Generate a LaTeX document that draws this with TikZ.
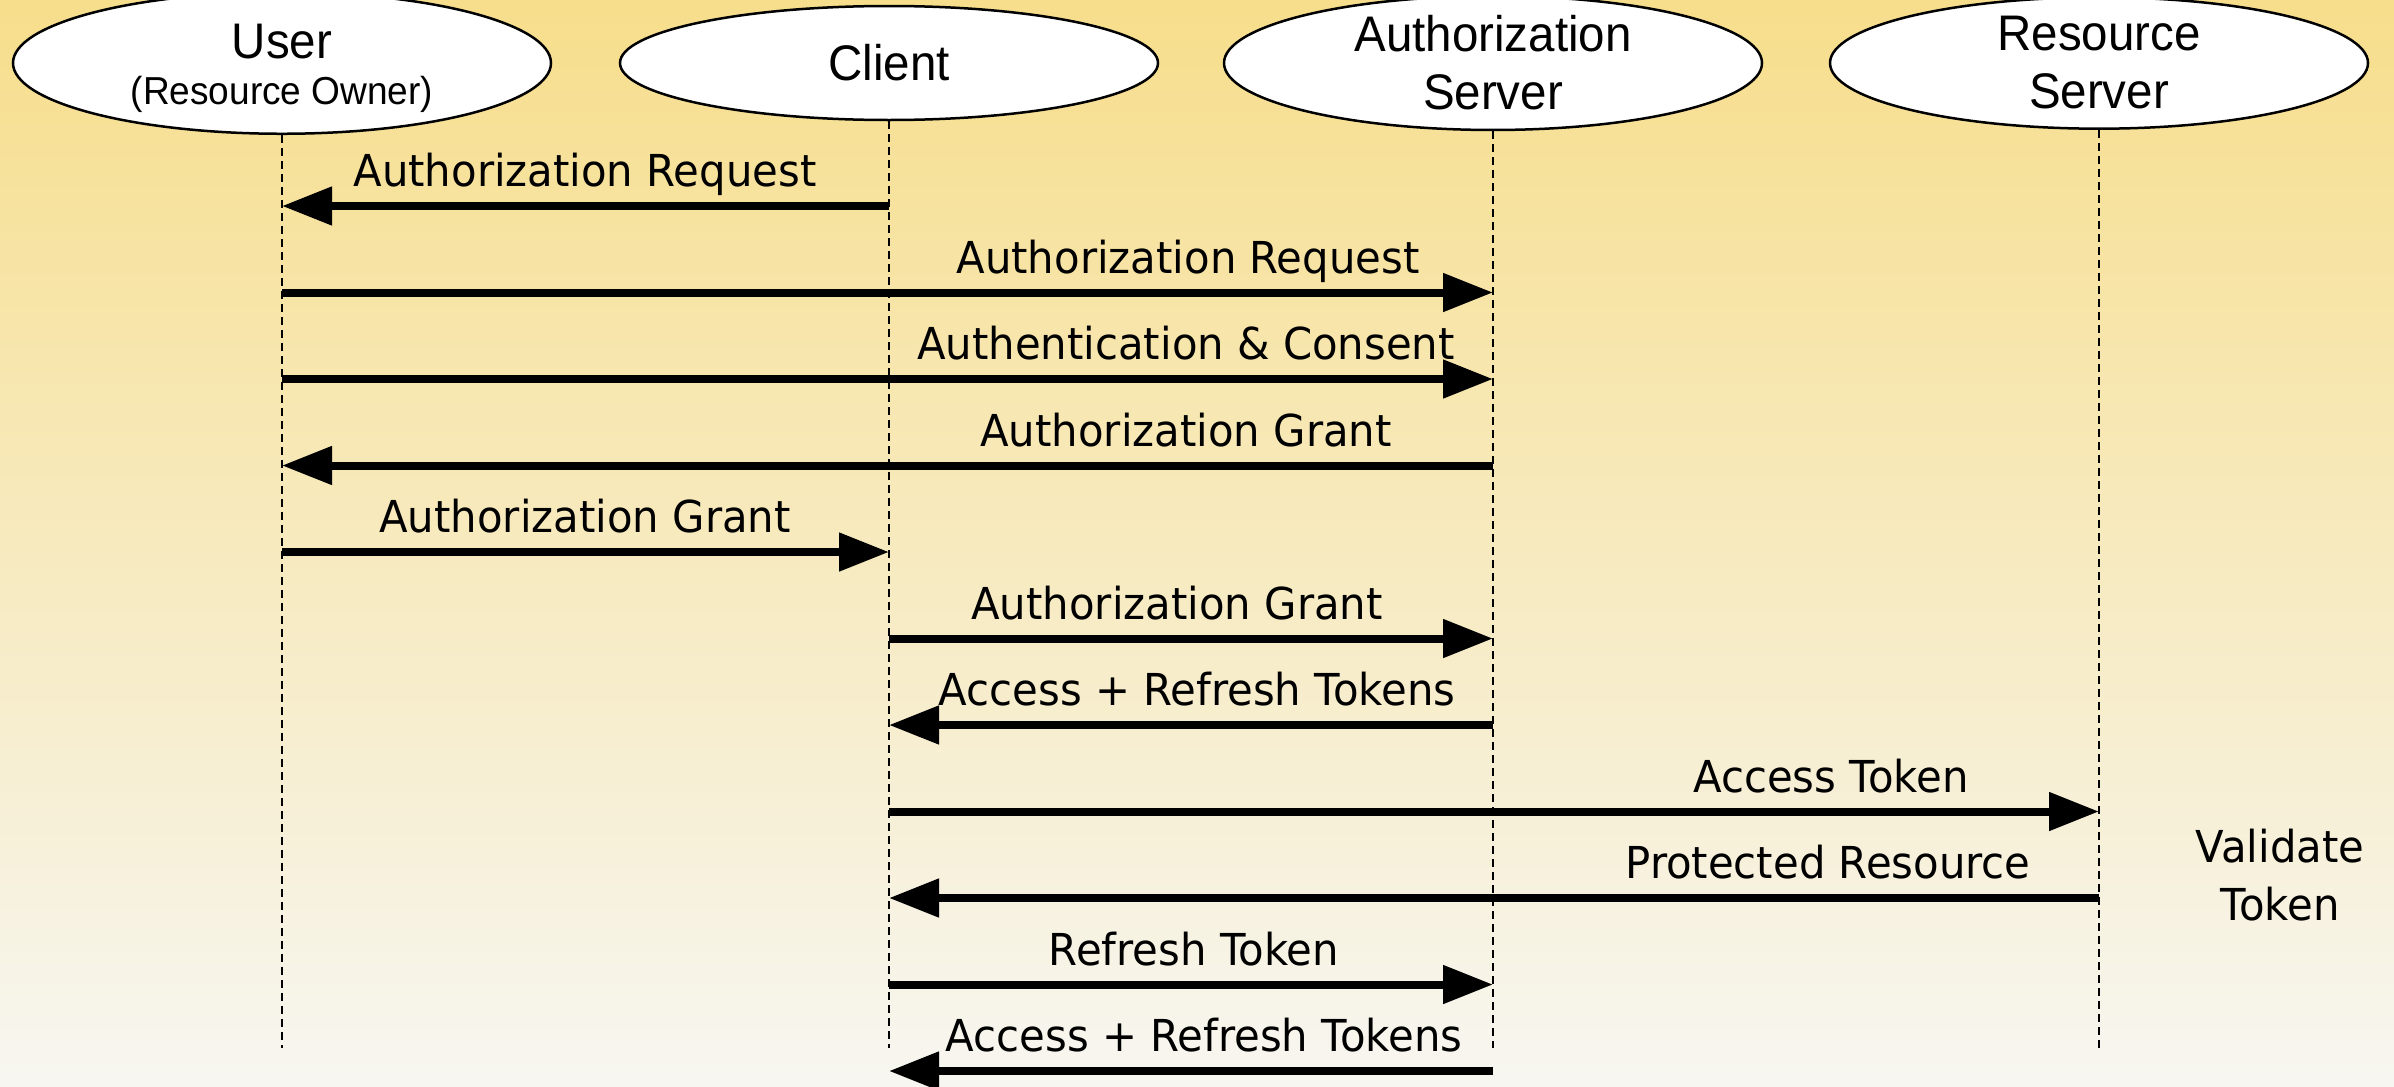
\documentclass[tikz,border=0pt]{standalone}
\usepackage{fontspec}
\setmainfont[FakeStretch=0.95]{DejaVu Sans}
\newfontfamily\headfont[FakeStretch=0.95]{Liberation Sans}
\usetikzlibrary{arrows.meta,shapes.geometric}
\definecolor{bgtop}{RGB}{247,222,140}
\definecolor{bgmid}{RGB}{250,238,196}
\definecolor{bgbot}{RGB}{247,246,241}
\begin{document}
\begin{tikzpicture}[x=1pt,y=-1pt,
  actor/.style={ellipse, draw=black, line width=2.5pt, fill=white,
    minimum width=538pt, minimum height=114pt, inner sep=0pt, align=center,
    font=\headfont\fontsize{50}{58}\selectfont},
  lifeline/.style={dash pattern=on 8pt off 5pt, line width=1.5pt},
  msg/.style={line width=8pt, -{Triangle[length=50pt,width=37pt]}},
  lbl/.style={anchor=base, inner sep=0pt, font=\fontsize{44}{52}\selectfont}
]
\useasboundingbox (0,0) rectangle (2394,1087);
\shade[top color=bgtop, middle color=bgmid, bottom color=bgbot] (0,0) rectangle (2394,1087);

% actors
\node[actor, font=\headfont\fontsize{50}{46}\selectfont] (u) at (282,63)
  {\rule{0pt}{46pt}User\\{\fontsize{39}{46}\selectfont(Resource Owner)}};
\node[actor] (c) at (889,63) {Client};
\node[actor] (a) at (1493,63) {Authorization\\Server};
\node[actor] (r) at (2099,63) {Resource\\Server};

% lifelines
\coordinate (ue) at (282,1048);
\coordinate (ce) at (889,1048);
\coordinate (ae) at (1493,1048);
\coordinate (re) at (2099,1048);
\draw[lifeline] (u.south) -- (ue);
\draw[lifeline] (c.south) -- (ce);
\draw[lifeline] (a.south) -- (ae);
\draw[lifeline] (r.south) -- (re);

% messages
\draw[msg] (c |- 0,206) -- (u |- 0,206);
\node[lbl] (m1) at (585,186.5) {Authorization Request};

\draw[msg] (u |- 0,292.5) -- (a |- 0,292.5);
\node[lbl] (m2) at (1188,273) {Authorization Request};

\draw[msg] (u |- 0,379) -- (a |- 0,379);
\node[lbl] (m3) at (1186,359.5) {Authentication \& Consent};

\draw[msg] (a |- 0,465.5) -- (u |- 0,465.5);
\node[lbl] (m4) at (1186,446) {Authorization Grant};

\draw[msg] (u |- 0,552) -- (c |- 0,552);
\node[lbl] (m5) at (585,532.5) {Authorization Grant};

\draw[msg] (c |- 0,638.5) -- (a |- 0,638.5);
\node[lbl] (m6) at (1177,619) {Authorization Grant};

\draw[msg] (a |- 0,725) -- (c |- 0,725);
\node[lbl] (m7) at (1197,705.5) {Access + Refresh Tokens};

\draw[msg] (c |- 0,811.5) -- (r |- 0,811.5);
\node[lbl] (m8) at (1831,792) {Access Token};

\draw[msg] (r |- 0,898) -- (c |- 0,898);
\node[lbl] (m9) at (1828,878.5) {Protected Resource};

\draw[msg] (c |- 0,984.5) -- (a |- 0,984.5);
\node[lbl] (m10) at (1194,965) {Refresh Token};

\draw[msg] (a |- 0,1071) -- (c |- 0,1071);
\node[lbl] (m11) at (1204,1051.5) {Access + Refresh Tokens};

% note
\node[inner sep=0pt, align=center, font=\fontsize{44}{58}\selectfont] (v) at (2280,875) {Validate\\Token};
\end{tikzpicture}
\end{document}
